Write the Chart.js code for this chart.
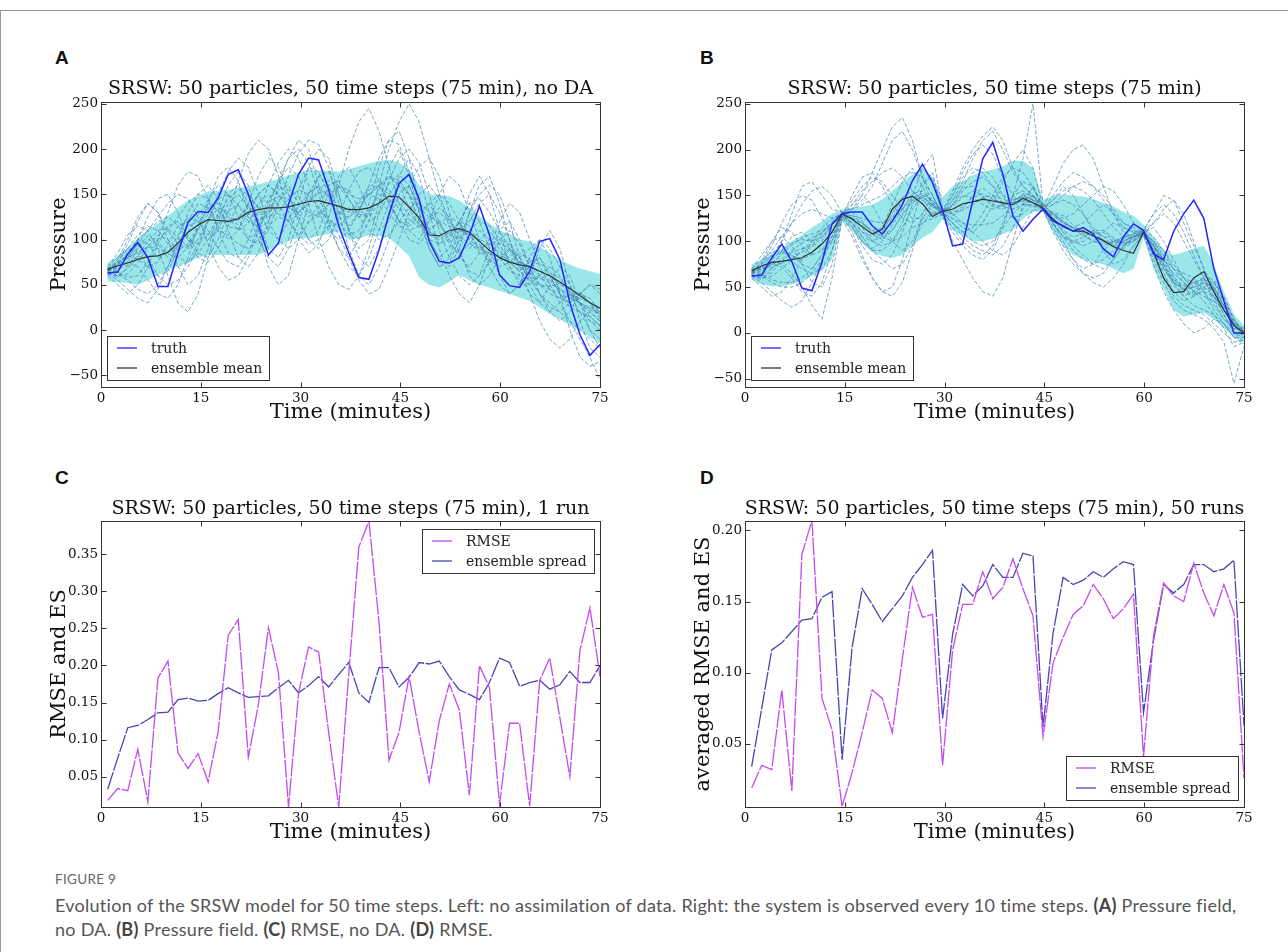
<!DOCTYPE html>
<html><head><meta charset="utf-8">
<script src="https://cdn.jsdelivr.net/npm/chart.js@4.4.1/dist/chart.umd.min.js"></script>
<style>
body{margin:0;background:#fff;width:1288px;height:952px;position:relative;overflow:hidden;}
.frame{position:absolute;left:0;top:10px;width:1290px;height:950px;border-top:1px solid #9a9a9a;border-left:1px solid #9a9a9a;box-sizing:border-box;}
.plabel{position:absolute;font-family:'Liberation Sans',Arial,sans-serif;font-weight:bold;font-size:19px;color:#111;line-height:20px;}
canvas{position:absolute;}
.caphead{position:absolute;left:55px;top:871px;font-family:Lato,'Noto Sans',sans-serif;font-size:13.5px;color:#666;letter-spacing:0.3px;}
.cap{position:absolute;left:55px;top:893px;font-family:Lato,'Noto Sans',sans-serif;font-size:18px;line-height:24px;color:#555;white-space:nowrap;letter-spacing:0.27px;}
.cap b{color:#444;}
</style></head>
<body>
<div class="frame"></div>
<div class="plabel" style="left:55px;top:48px">A</div>
<div class="plabel" style="left:700px;top:48px">B</div>
<div class="plabel" style="left:55px;top:468px">C</div>
<div class="plabel" style="left:700px;top:468px">D</div>
<canvas id="cA" width="572" height="367" style="left:40px;top:60px"></canvas>
<canvas id="cB" width="572" height="367" style="left:684px;top:60px"></canvas>
<canvas id="cC" width="572" height="369" style="left:40px;top:478px"></canvas>
<canvas id="cD" width="572" height="369" style="left:684px;top:478px"></canvas>
<div class="caphead">FIGURE 9</div>
<div class="cap">Evolution of the SRSW model for 50 time steps. Left: no assimilation of data. Right: the system is observed every 10 time steps. <b>(A)</b> Pressure field,<br>no DA. <b>(B)</b> Pressure field. <b>(C)</b> RMSE, no DA. <b>(D)</b> RMSE.</div>
<script>
// ---------- data ----------
const timeSteps = Array.from({length: 50}, (_, k) => 1 + k * 74 / 49); // 50 model steps over 75 min
const xTicks = [0, 15, 30, 45, 60, 75];
const pressureTicks = [-50, 0, 50, 100, 150, 200, 250];
const rmseTicksC = [0.05, 0.10, 0.15, 0.20, 0.25, 0.30, 0.35];
const rmseTicksD = [0.05, 0.10, 0.15, 0.20];

// Panel A (no DA)
const truthA = [63,64,84,97,80,48,48,85,119,131, 130,146,172,177,150,116,83,96,139,172, 190,188,155,115,85,58,56,88,128,162, 172,145,98,76,74,80,105,137,105,61, 49,47,65,98,101,78,30,-5,-28,-16];
const meanA = [67,71,74,78,81,82,86,96,108,116, 122,121,120,123,130,133,135,135,136,139, 142,143,140,137,133,133,135,140,148,147, 136,124,105,104,110,112,108,98,88,80, 75,72,70,65,60,53,46,38,30,24];
const bandUpperA = [74,82,91,101,110,118,126,135,143,148, 153,154,155,157,159,161,164,167,171,174, 177,176,176,175,178,181,184,187,188,185, 178,160,150,149,148,143,135,126,118,110, 106,100,98,92,85,78,72,68,65,62];
const bandLowerA = [54,53,52,50,55,61,66,71,75,80, 83,83,83,83,83,83,88,94,98,102, 101,104,106,109,100,101,105,104,102,92, 82,58,50,47,53,61,55,50,47,43, 40,36,32,25,18,12,5,0,-8,-15];
const particlesA = [
 [65,75,95,120,140,130,100,70,50,60, 90,130,160,175,160,120,90,80,100,140, 180,200,190,150,110,90,100,140,180,200, 170,130,90,70,80,110,150,170,150,110, 70,50,60,90,110,90,50,10,-20,-30],
 [62,55,45,35,30,45,70,100,130,150, 160,145,110,80,70,85,120,160,190,210, 200,160,120,90,80,100,140,180,210,220, 190,140,100,80,70,90,130,160,170,140, 100,60,40,30,50,70,60,30,0,-20],
 [70,80,90,85,70,60,65,90,120,140, 135,115,100,110,140,170,190,180,150,120, 100,110,140,170,180,160,130,110,120,150, 160,130,100,80,90,120,140,120,90,60, 40,50,70,80,60,40,30,40,50,40],
 [68,72,80,100,125,145,150,130,100,80, 75,90,115,140,150,135,110,100,120,155, 180,175,150,120,105,110,130,150,145,120, 100,95,110,120,100,80,70,85,100,90, 70,55,50,60,70,60,40,20,10,5],
 [60,50,40,50,70,95,115,120,105,85, 80,100,130,165,195,210,200,170,130,100, 85,95,125,160,200,230,245,220,180,140, 110,100,120,150,170,160,130,100,70,50, 40,50,80,100,80,40,0,-30,-40,-35],
 [66,78,100,125,140,130,110,95,90,110, 140,170,180,165,130,100,80,70,90,120, 150,170,160,130,90,60,50,70,100,130, 160,180,190,170,130,90,60,50,60,80, 90,75,55,40,30,20,10,0,-10,-20],
 [64,60,62,75,90,100,110,125,140,150, 145,130,120,125,135,150,160,150,135,130, 140,155,165,160,150,145,150,160,170,165, 150,135,125,120,115,110,105,100,95,85, 80,75,70,60,55,45,40,35,30,25],
 [70,85,105,115,110,90,60,30,20,40, 80,120,150,160,140,110,70,50,60,100, 140,170,175,150,110,80,70,90,130,170, 190,170,130,90,60,40,30,50,80,110, 120,100,70,40,20,10,20,40,50,45],
 [63,58,70,90,100,95,80,70,75,95, 120,135,130,115,100,110,135,165,190,200, 185,150,115,90,70,60,80,110,140,160, 150,120,90,70,75,100,130,150,160,150, 120,80,50,30,20,30,40,30,10,0],
 [67,70,75,70,55,40,35,50,80,115, 145,160,150,125,100,95,110,140,170,195, 210,205,180,140,110,100,120,160,200,230, 250,230,190,150,120,110,120,140,150,130, 100,70,40,10,-10,-20,-10,10,20,10],
 [65,72,85,100,110,120,125,115,100,95, 105,125,145,155,150,135,125,130,145,155, 150,135,120,115,125,140,150,145,130,115, 110,115,125,130,120,105,95,90,85,80, 75,65,55,50,45,40,35,30,25,20],
 [61,66,80,95,110,125,140,150,145,125, 95,70,55,60,80,110,140,165,180,170, 140,100,70,50,45,60,90,130,165,190, 200,185,150,110,80,60,50,60,90,120, 140,130,100,70,50,30,10,-10,-30,-55],
 [69,64,58,60,75,100,130,160,175,170, 145,110,85,80,100,130,160,185,200,190, 160,130,110,100,110,130,160,190,210,205, 175,140,110,95,100,120,140,145,130,110, 90,80,90,100,90,70,50,30,20,10],
 [66,75,90,105,115,110,95,80,75,85, 100,110,105,95,90,100,115,125,120,105, 95,100,115,130,135,125,110,100,105,120, 135,140,130,115,105,100,110,120,115,100, 85,75,70,65,60,50,45,40,30,20],
 [64,70,80,95,80,60,50,55,70,90, 120,150,175,190,180,150,120,100,90,100, 120,130,125,105,80,55,40,45,70,100, 130,150,160,145,115,85,65,60,75,100, 110,95,70,50,40,35,30,20,0,-10],
 [67,62,55,45,40,50,70,95,115,120, 110,90,75,70,85,115,145,160,150,125, 100,90,100,125,155,175,180,165,140,120, 115,125,140,150,140,120,100,90,95,100, 95,80,60,40,25,20,30,40,30,15],
 [66,72,85,100,95,80,85,105,125,120, 105,115,140,150,135,120,130,155,160,140, 125,135,160,165,145,125,130,155,170,160, 135,115,120,135,125,100,90,100,110,95, 75,65,75,80,65,45,35,40,35,20],
 [63,60,68,80,92,105,100,88,95,115, 135,140,125,110,118,140,150,138,120,128, 150,160,148,125,115,130,155,160,140,120, 118,130,140,120,95,85,95,110,100,80, 65,60,70,75,60,40,25,20,15,5],
 [68,75,82,78,70,75,95,115,120,108, 100,112,132,138,125,112,120,142,155,148, 130,125,140,158,155,135,120,128,150,165, 150,120,100,95,105,120,115,95,78,70, 75,85,78,60,45,35,38,42,30,12],
 [65,68,72,82,98,110,112,102,92,100, 122,145,150,138,120,115,128,148,145,128, 118,128,150,158,145,128,125,140,162,172, 160,135,110,100,108,118,108,88,75,78, 88,80,62,50,48,52,45,30,15,5],
 [62,66,76,92,104,98,84,80,92,112, 128,126,114,112,128,150,160,150,135,130, 140,152,150,136,130,142,158,165,155,140, 128,118,112,118,126,118,98,85,86,96, 90,72,58,56,62,58,42,28,22,18],
 [67,74,80,86,92,90,86,92,108,128, 140,132,118,122,140,148,140,128,124,136, 152,158,146,130,124,134,150,158,150,134, 122,114,108,104,108,112,104,92,84,82, 78,70,62,58,52,44,36,30,24,18]
];

// Panel B (observed every 10 steps)
const truthB = [62,63,82,97,78,49,46,77,119,130, 132,132,117,108,122,140,166,184,164,134, 95,97,144,190,208,173,128,111,124,135, 122,117,111,115,108,92,83,105,119,112, 86,80,111,130,145,125,70,35,0,0];
const meanB = [68,73,77,78,80,82,88,97,110,130, 124,116,108,113,135,146,149,141,127,133, 135,141,143,146,144,142,140,147,142,136, 124,116,111,111,106,101,94,90,87,110, 88,60,44,45,60,67,45,25,8,0];
const bandUpperB = [75,80,86,92,100,107,115,122,130,135, 137,138,140,146,155,165,173,180,170,148, 160,165,172,176,178,182,188,188,180,145, 150,151,150,149,146,142,138,132,128,118, 105,90,85,88,92,95,75,45,20,8];
const bandLowerB = [58,53,51,51,53,56,62,68,80,122, 112,98,88,84,82,85,95,104,110,124, 112,106,100,100,103,108,112,125,132,133, 110,95,85,80,77,75,70,65,70,104, 70,48,25,18,20,22,15,5,-5,-10];
const particlesB = [
 [65,75,95,120,140,150,145,125,110,128, 150,170,175,160,140,125,120,130,140,130, 120,110,100,95,100,115,130,140,145,135, 150,165,175,170,160,145,130,120,115,110, 100,85,70,60,55,50,40,25,10,0],
 [62,55,45,35,28,35,55,80,105,130, 115,95,80,75,85,110,140,165,170,135, 150,175,195,205,195,170,150,140,138,135, 120,100,80,70,75,90,100,105,108,112, 120,130,120,100,80,60,40,20,0,-10],
 [70,80,88,90,85,75,70,85,105,127, 135,145,160,185,210,220,200,170,150,130, 115,100,90,85,95,120,150,165,160,138, 140,145,140,130,115,100,95,100,105,108, 95,75,55,40,30,25,20,10,-5,-5],
 [68,72,80,100,130,160,165,150,135,132, 120,105,90,80,70,75,95,120,130,128, 140,160,175,180,170,150,140,145,150,140, 130,120,115,120,130,140,130,115,110,112, 130,140,130,110,85,60,35,15,5,2],
 [60,50,40,45,60,80,100,115,125,130, 140,150,140,120,100,90,100,125,140,131, 125,115,110,120,140,165,185,200,180,137, 145,160,150,130,110,90,75,80,95,107, 80,55,35,25,20,15,5,-10,-55,-15],
 [66,78,100,115,110,95,85,90,110,128, 110,85,60,45,50,80,120,160,175,132, 120,105,95,90,85,95,115,135,150,136, 125,110,95,85,75,70,80,95,105,110, 115,100,80,60,50,45,30,15,5,5],
 [64,60,62,70,80,90,100,110,120,130, 128,125,122,120,125,135,145,148,140,133, 135,140,143,145,145,143,142,145,142,135, 128,120,115,112,110,106,100,98,100,110, 90,70,55,48,50,55,45,25,10,0],
 [70,85,100,105,95,75,55,50,75,125, 140,155,165,175,180,170,155,145,138,130, 145,165,190,210,220,200,175,160,150,137, 125,110,100,95,100,110,120,115,110,106, 90,65,45,35,40,55,50,30,10,-5],
 [63,58,70,90,105,110,100,90,100,127, 120,110,105,115,140,165,180,160,140,128, 110,95,85,80,90,115,150,190,250,140, 130,125,130,140,150,160,155,140,120,111, 100,90,75,60,45,35,20,5,-15,-10],
 [67,70,75,72,60,45,40,55,90,133, 125,115,100,95,100,120,150,180,195,136, 130,120,110,100,90,85,95,115,135,133, 115,95,80,65,55,50,60,75,95,108, 120,135,145,130,100,70,50,30,10,5],
 [65,72,85,100,120,140,155,160,150,131, 135,140,145,150,160,170,175,170,150,129, 140,155,165,170,160,150,145,148,145,134, 140,150,160,165,160,150,135,120,112,109, 85,60,40,30,25,20,10,0,-10,-8],
 [61,66,75,80,78,70,65,70,90,126, 115,100,90,90,100,115,135,150,145,131, 120,110,115,130,150,170,180,175,160,138, 120,105,90,80,75,80,90,100,105,109, 95,80,70,65,60,45,25,10,0,2],
 [69,64,58,55,55,60,70,85,110,129, 145,160,170,165,150,135,125,125,130,132, 150,170,180,175,160,140,125,130,140,135, 145,155,160,155,145,130,115,105,104,113, 105,90,70,55,45,50,55,40,15,0],
 [66,75,90,105,120,130,135,130,125,130, 125,120,112,105,100,105,115,120,125,130, 125,120,118,118,120,128,135,140,140,136, 130,122,115,110,105,100,98,100,105,110, 95,80,65,55,45,40,35,25,12,3],
 [64,70,78,75,65,50,30,15,60,124, 105,80,60,45,40,55,90,130,150,128, 100,80,60,45,40,60,100,140,160,134, 110,90,75,65,60,65,80,95,100,107, 75,45,25,10,0,5,15,10,-5,-12],
 [67,62,55,50,50,55,65,80,100,128, 135,150,175,200,225,235,210,170,140,133, 155,180,200,215,225,210,180,160,150,137, 160,185,200,205,190,160,130,110,105,112, 130,150,145,120,95,70,45,20,0,-5],
 [66,72,80,90,98,102,100,105,118,129, 125,110,100,105,125,145,150,140,130,132, 140,150,148,140,135,140,150,155,148,136, 125,112,105,108,112,105,95,92,100,109, 90,70,55,50,55,60,48,30,12,2],
 [63,60,66,78,88,92,95,108,122,131, 118,100,92,100,118,135,152,155,142,134, 128,135,150,158,150,138,135,148,158,137, 120,105,98,100,108,110,102,95,102,111, 98,78,60,45,40,48,50,35,15,-2],
 [68,76,84,88,84,80,86,100,118,128, 128,120,108,102,112,130,142,148,140,131, 138,148,155,150,140,138,145,150,145,134, 132,128,118,108,100,96,98,102,106,109, 100,82,62,48,42,45,40,25,8,0],
 [64,68,76,86,96,104,108,112,120,130, 132,122,110,106,112,128,145,150,138,133, 130,138,148,152,146,140,142,152,150,136, 128,120,114,110,106,100,95,96,104,110, 92,72,52,40,45,58,55,35,10,-5],
 [66,70,72,76,82,88,94,104,118,129, 120,105,100,110,130,148,155,145,132,132, 145,158,160,148,138,135,142,150,146,135, 118,105,100,104,112,112,104,98,102,108, 96,75,58,52,55,58,46,28,8,0],
 [62,64,70,80,90,98,104,110,118,127, 126,118,112,114,122,136,148,152,144,134, 132,134,140,148,150,146,142,144,142,136, 130,122,114,106,100,98,100,104,108,111, 94,74,56,46,50,62,58,38,14,2]
];

// Panel C (1 run)
const rmseC = [0.018,0.034,0.031,0.087,0.016,0.183,0.206,0.082,0.061,0.081, 0.043,0.111,0.241,0.262,0.076,0.147,0.251,0.190,0.009,0.163, 0.225,0.218,0.109,0.009,0.190,0.360,0.395,0.260,0.072,0.110, 0.185,0.110,0.043,0.125,0.175,0.140,0.025,0.200,0.170,0.012, 0.122,0.122,0.010,0.180,0.210,0.130,0.050,0.220,0.278,0.185];
const spreadC = [0.033,0.075,0.116,0.119,0.127,0.136,0.137,0.154,0.156,0.152, 0.153,0.162,0.170,0.163,0.157,0.158,0.159,0.170,0.180,0.163, 0.173,0.185,0.171,0.188,0.204,0.163,0.150,0.197,0.197,0.171, 0.184,0.204,0.202,0.206,0.185,0.167,0.161,0.154,0.177,0.210, 0.204,0.172,0.177,0.180,0.168,0.174,0.192,0.177,0.177,0.200];

// Panel D (averaged over 50 runs)
const rmseD = [0.019,0.035,0.032,0.088,0.017,0.183,0.207,0.082,0.060,0.006, 0.030,0.058,0.088,0.082,0.058,0.110,0.160,0.139,0.141,0.035, 0.116,0.148,0.148,0.171,0.152,0.160,0.180,0.159,0.140,0.055, 0.107,0.125,0.141,0.147,0.162,0.152,0.138,0.145,0.155,0.041, 0.126,0.163,0.154,0.150,0.177,0.156,0.140,0.162,0.142,0.026];
const spreadD = [0.034,0.075,0.116,0.121,0.129,0.137,0.138,0.153,0.157,0.039, 0.118,0.159,0.148,0.136,0.145,0.154,0.167,0.176,0.186,0.068, 0.127,0.162,0.154,0.161,0.176,0.167,0.167,0.184,0.182,0.062, 0.128,0.167,0.162,0.165,0.171,0.167,0.173,0.178,0.176,0.072, 0.123,0.162,0.156,0.162,0.176,0.176,0.171,0.173,0.179,0.063];

// ---------- styling / helpers ----------
const SERIF = "'DejaVu Serif', serif";
Chart.defaults.font.family = SERIF;
Chart.defaults.color = '#111';
const pts = arr => arr.map((v, k) => ({x: timeSteps[k], y: v}));
const minusFmt = v => (v < 0 ? '\u2212' + Math.abs(v) : String(v));

const framePlugin = {
  id: 'frame',
  afterDraw(chart) {
    const {ctx, chartArea: a, scales} = chart;
    ctx.save();
    ctx.strokeStyle = '#333'; ctx.lineWidth = 1; ctx.setLineDash([]);
    const l = Math.round(a.left) + 0.5, t = Math.round(a.top) + 0.5, r = Math.round(a.right) + 0.5, b = Math.round(a.bottom) + 0.5;
    ctx.strokeRect(l, t, r - l, b - t);
    const L = 5;
    ctx.beginPath();
    scales.x.ticks.forEach(tk => {
      const px = Math.round(scales.x.getPixelForValue(tk.value)) + 0.5;
      ctx.moveTo(px, b); ctx.lineTo(px, b - L);
      ctx.moveTo(px, t); ctx.lineTo(px, t + L);
    });
    scales.y.ticks.forEach(tk => {
      const py = Math.round(scales.y.getPixelForValue(tk.value)) + 0.5;
      ctx.moveTo(l, py); ctx.lineTo(l + L, py);
      ctx.moveTo(r, py); ctx.lineTo(r - L, py);
    });
    ctx.stroke();
    ctx.restore();
  }
};

const panelTitle = {
  id: 'panelTitle',
  afterDraw(chart, args, o) {
    if (!o || !o.text) return;
    const {ctx, chartArea: a} = chart;
    ctx.save();
    ctx.font = '19px ' + SERIF;
    ctx.fillStyle = '#111'; ctx.textAlign = 'center'; ctx.textBaseline = 'alphabetic';
    ctx.fillText(o.text, (a.left + a.right) / 2, a.top - o.gap);
    ctx.restore();
  }
};

const boxLegend = {
  id: 'boxLegend',
  afterDatasetsDraw(chart, args, o) {
    if (!o || !o.corner) return;
    const {ctx, chartArea: a} = chart;
    const items = chart.data.datasets.filter(d => d.label).map(d => ({text: d.label, color: d.borderColor}));
    ctx.save();
    ctx.font = '14px ' + SERIF;
    const tw = Math.max(...items.map(i => ctx.measureText(i.text).width));
    const w = Math.round(tw + 44 + 7), h = 20 * items.length + 4;
    let x, y;
    if (o.corner === 'bl') { x = a.left + 6; y = a.bottom - 7 - h; }
    else if (o.corner === 'tr') { x = a.right - 6 - w; y = a.top + 8; }
    else { x = a.right - 6 - w; y = a.bottom - 7 - h; }
    x = Math.round(x); y = Math.round(y);
    ctx.fillStyle = '#fff'; ctx.fillRect(x, y, w, h);
    ctx.strokeStyle = '#333'; ctx.lineWidth = 1; ctx.strokeRect(x + 0.5, y + 0.5, w, h);
    items.forEach((it, i) => {
      const cy = y + 2 + 20 * (i + 0.5);
      ctx.strokeStyle = it.color; ctx.lineWidth = 1.3;
      ctx.beginPath(); ctx.moveTo(x + 10, cy); ctx.lineTo(x + 30, cy); ctx.stroke();
      ctx.fillStyle = '#222'; ctx.textBaseline = 'middle'; ctx.textAlign = 'left';
      ctx.fillText(it.text, x + 44, cy + 1);
    });
    ctx.restore();
  }
};

function scalesFor(yMin, yMax, yTickVals, yFmt, yTitle) {
  return {
    x: {
      type: 'linear', min: 0, max: 75,
      afterBuildTicks: s => { s.ticks = xTicks.map(v => ({value: v})); },
      afterFit: s => { s.height = 40; },
      ticks: {font: {size: 13.5}, color: '#111', padding: 3, maxRotation: 0, autoSkip: false, callback: v => String(v)},
      grid: {display: false, drawTicks: false}, border: {display: false},
      title: {display: true, text: 'Time (minutes)', font: {size: 21, lineHeight: 1.2}, color: '#111', padding: {top: 0, bottom: 2}}
    },
    y: {
      type: 'linear', min: yMin, max: yMax,
      afterBuildTicks: s => { s.ticks = yTickVals.map(v => ({value: v})); },
      afterFit: s => { s.width = 61; },
      ticks: {font: {size: 13.5}, color: '#111', padding: 3, autoSkip: false, callback: yFmt},
      grid: {display: false, drawTicks: false}, border: {display: false},
      title: {display: true, text: yTitle, font: {size: 21, lineHeight: 1.2}, color: '#111', padding: {top: 7, bottom: 0}}
    }
  };
}

function pressureChart(id, title, truth, mean, up, lo, parts, yMin) {
  const datasets = [
    {label: 'truth', data: pts(truth), borderColor: '#2424ff', borderWidth: 1.5},
    {label: 'ensemble mean', data: pts(mean), borderColor: '#333333', borderWidth: 1.2},
    ...parts.map(p => ({data: pts(p), borderColor: 'rgba(70,130,180,0.7)', borderWidth: 1, borderDash: [4, 2]})),
    {data: pts(up), borderWidth: 0, borderColor: 'rgba(0,0,0,0)', fill: '+1', backgroundColor: 'rgba(0,196,200,0.40)'},
    {data: pts(lo), borderWidth: 0, borderColor: 'rgba(0,0,0,0)', fill: false}
  ];
  return new Chart(document.getElementById(id), {
    type: 'line',
    data: {datasets},
    options: {
      responsive: false, animation: false, events: [],
      layout: {padding: {left: 0, right: 12, top: 42, bottom: 0}},
      elements: {point: {radius: 0}, line: {tension: 0}},
      scales: scalesFor(yMin, 252, pressureTicks, minusFmt, 'Pressure'),
      plugins: {
        legend: {display: false}, tooltip: {enabled: false}, title: {display: false},
        panelTitle: {text: title, gap: 8},
        boxLegend: {corner: 'bl'}
      }
    },
    plugins: [framePlugin, boxLegend, panelTitle]
  });
}

function errorChart(id, title, rmse, spread, yMin, yMax, yTickVals, yTitle, corner) {
  const datasets = [
    {label: 'RMSE', data: pts(rmse), borderColor: 'rgb(196,74,240)', borderWidth: 1.3, borderDash: [18, 1.5]},
    {label: 'ensemble spread', data: pts(spread), borderColor: 'rgb(70,70,176)', borderWidth: 1.3, borderDash: [18, 1.5]}
  ];
  return new Chart(document.getElementById(id), {
    type: 'line',
    data: {datasets},
    options: {
      responsive: false, animation: false, events: [],
      layout: {padding: {left: 0, right: 12, top: 43, bottom: 0}},
      elements: {point: {radius: 0}, line: {tension: 0}},
      scales: scalesFor(yMin, yMax, yTickVals, v => v.toFixed(2), yTitle),
      plugins: {
        legend: {display: false}, tooltip: {enabled: false}, title: {display: false},
        panelTitle: {text: title, gap: 7},
        boxLegend: {corner}
      }
    },
    plugins: [framePlugin, boxLegend, panelTitle]
  });
}

pressureChart('cA', 'SRSW: 50 particles, 50 time steps (75 min), no DA', truthA, meanA, bandUpperA, bandLowerA, particlesA, -63);
pressureChart('cB', 'SRSW: 50 particles, 50 time steps (75 min)', truthB, meanB, bandUpperB, bandLowerB, particlesB, -59);
errorChart('cC', 'SRSW: 50 particles, 50 time steps (75 min), 1 run', rmseC, spreadC, 0.009, 0.395, rmseTicksC, 'RMSE and ES', 'tr');
errorChart('cD', 'SRSW: 50 particles, 50 time steps (75 min), 50 runs', rmseD, spreadD, 0.0057, 0.2066, rmseTicksD, 'averaged RMSE and ES', 'br');
</script>
</body></html>
